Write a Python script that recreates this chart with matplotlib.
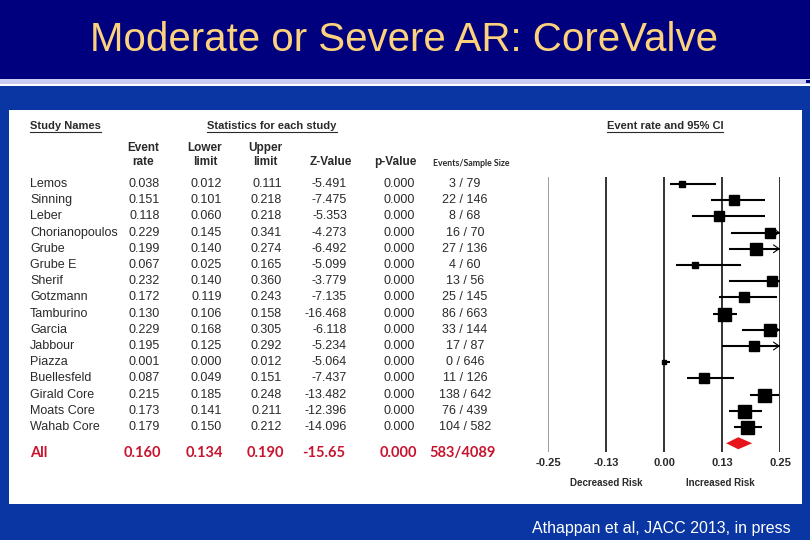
import matplotlib
matplotlib.use("Agg")
import matplotlib.pyplot as plt
from matplotlib.patches import Rectangle
from matplotlib.transforms import blended_transform_factory
from matplotlib import font_manager
import numpy as np

# --- study data ---
studies = ["Lemos", "Sinning", "Leber", "Chorianopoulos", "Grube", "Grube E", "Sherif",
           "Gotzmann", "Tamburino", "Garcia", "Jabbour", "Piazza", "Buellesfeld",
           "Girald Core", "Moats Core", "Wahab Core"]
event_rate = [0.038, 0.151, 0.118, 0.229, 0.199, 0.067, 0.232, 0.172, 0.130, 0.229,
              0.195, 0.001, 0.087, 0.215, 0.173, 0.179]
lower = [0.012, 0.101, 0.060, 0.145, 0.140, 0.025, 0.140, 0.119, 0.106, 0.168,
         0.125, 0.000, 0.049, 0.185, 0.141, 0.150]
upper = [0.111, 0.218, 0.218, 0.341, 0.274, 0.165, 0.360, 0.243, 0.158, 0.305,
         0.292, 0.012, 0.151, 0.248, 0.211, 0.212]
z_value = ["-5.491", "-7.475", "-5.353", "-4.273", "-6.492", "-5.099", "-3.779", "-7.135",
           "-16.468", "-6.118", "-5.234", "-5.064", "-7.437", "-13.482", "-12.396", "-14.096"]
p_value = ["0.000"] * 16
events = ["3 / 79", "22 / 146", "8 / 68", "16 / 70", "27 / 136", "4 / 60", "13 / 56",
          "25 / 145", "86 / 663", "33 / 144", "17 / 87", "0 / 646", "11 / 126",
          "138 / 642", "76 / 439", "104 / 582"]
# relative weight (%), estimated from the square sizes
weight = [2.6, 6.5, 5.4, 6.5, 7.7, 2.6, 6.5, 6.5, 9.1, 7.7, 5.4, 0.9, 5.4, 9.1, 9.1, 9.1]

pooled = dict(rate=0.160, lower=0.134, upper=0.190, z="-15.65", p="0.000", events="583/4089")

xticks = [-0.25, -0.125, 0.0, 0.125, 0.25]
xtick_labels = ["-0.25", "-0.13", "0.00", "0.13", "0.25"]

NAVY = "#00007f"
BLUE = "#0a36a3"
TITLE_C = "#fdd27c"
RED = "#c8142f"
TXT = "#2a2a2a"

installed = {f.name for f in font_manager.fontManager.ttflist}
TITLE_FONT = "Liberation Sans Narrow" if "Liberation Sans Narrow" in installed else "Liberation Sans"

fig = plt.figure(figsize=(8.1, 5.4), dpi=100)
fig.patch.set_facecolor(BLUE)

# background layer in pixel coordinates
bg = fig.add_axes([0, 0, 1, 1], zorder=0)
bg.set_xlim(0, 810)
bg.set_ylim(540, 0)
bg.axis("off")
bg.add_patch(Rectangle((0, 0), 810, 79, color=NAVY, lw=0))
bg.add_patch(Rectangle((0, 79), 810, 5, color="#c9cdf2", lw=0))
bg.add_patch(Rectangle((0, 84), 810, 2, color="white", lw=0))
bg.add_patch(Rectangle((806, 80), 4, 3, color=NAVY, lw=0))
bg.add_patch(Rectangle((9, 110), 793, 394, color="white", lw=0))

title = bg.text(404, 40, "Moderate or Severe AR: CoreValve", color=TITLE_C, fontsize=28.5,
                family=TITLE_FONT, ha="center", va="center")
bg.text(791, 528, "Athappan et al, JACC 2013, in press", color="white", fontsize=11.5,
        family="Liberation Sans", ha="right", va="center")

# forest plot axes
ax = fig.add_axes([548 / 810, 1 - 452 / 540, 232 / 810, 275 / 540], zorder=2)
ax.set_facecolor("none")
n = len(studies)
ax.set_xlim(-0.25, 0.25)
ax.set_ylim(16.54, -0.43)
for s in ax.spines.values():
    s.set_visible(False)
ax.set_yticks([])
ax.set_xticks(xticks)
ax.set_xticklabels(xtick_labels, fontsize=8, fontweight="bold", color=TXT, family="Liberation Sans")
ax.tick_params(axis="x", length=0, pad=4.5)
for xv in xticks:
    ax.axvline(xv, color="#8c8c8c" if xv == -0.25 else "#111111", lw=1.2, zorder=1)

rows = np.arange(n)
wmax = max(weight)
for i in rows:
    lo, hi, est = lower[i], upper[i], event_rate[i]
    ax.plot([lo, min(hi, 0.25)], [i, i], color="black", lw=1.5, zorder=3, solid_capstyle="butt")
    size_pt = 13 * np.sqrt(weight[i] / wmax) * 0.72
    ax.plot(est, i, marker="s", ms=size_pt, color="black", zorder=4)
    if hi > 0.25:
        ax.annotate("", xy=(0.25, i), xytext=(0.235, i),
                    arrowprops=dict(arrowstyle="->,head_length=0.4,head_width=0.28",
                                    lw=0.8, color="black", shrinkA=0, shrinkB=0), zorder=3)

pr = n  # pooled row
h = 0.37
ax.fill([pooled["lower"], pooled["rate"], pooled["upper"], pooled["rate"]],
        [pr, pr - h, pr, pr + h], color="#e8141c", lw=0, zorder=4)

# table text: x in pixels, y in forest rows
tr = blended_transform_factory(bg.transData, ax.transData)
for i in rows:
    kw = dict(transform=tr, fontsize=9, color=TXT, family="Liberation Sans", va="center")
    bg.text(30, i, studies[i], ha="left", **kw)
    bg.text(160, i, f"{event_rate[i]:.3f}", ha="right", **kw)
    bg.text(222, i, f"{lower[i]:.3f}", ha="right", **kw)
    bg.text(282, i, f"{upper[i]:.3f}", ha="right", **kw)
    bg.text(347, i, z_value[i], ha="right", **kw)
    bg.text(415, i, p_value[i], ha="right", **kw)
    bg.text(465, i, events[i], ha="center", **kw)

ay = pr + 0.6
rk = dict(transform=tr, fontsize=10.5, color=RED, family="Lato", fontweight="bold", va="center")
bg.text(30, ay, "All", ha="left", **rk)
bg.text(161, ay, f"{pooled['rate']:.3f}", ha="right", **rk)
bg.text(223, ay, f"{pooled['lower']:.3f}", ha="right", **rk)
bg.text(284, ay, f"{pooled['upper']:.3f}", ha="right", **rk)
bg.text(345, ay, pooled["z"], ha="right", **rk)
bg.text(417, ay, pooled["p"], ha="right", **rk)
bg.text(463, ay, pooled["events"], ha="center", **rk)

# headers
hk = dict(fontsize=8, fontweight="bold", color=TXT, family="Liberation Sans")
underlined = [
    bg.text(30, 126, "Study Names", ha="left", va="center", **hk),
    bg.text(272, 126, "Statistics for each study", ha="center", va="center", **hk),
    bg.text(665, 126, "Event rate and 95% CI", ha="center", va="center", **hk),
]
ck = dict(fontsize=8.5, fontweight="bold", color=TXT, family="Liberation Sans",
          ha="center", va="center", linespacing=1.25)
bg.text(143, 155, "Event\nrate", **ck)
bg.text(205, 155, "Lower\nlimit", **ck)
bg.text(265, 155, "Upper\nlimit", **ck)
bg.text(331, 162, "Z-Value", **ck)
bg.text(395, 162, "p-Value", **ck)
bg.text(471, 163, "Events/Sample Size", fontsize=6.3, fontweight="bold", color=TXT,
        family="Lato", ha="center", va="center")

bg.text(606, 483, "Decreased Risk", fontsize=7, fontweight="bold", color=TXT,
        family="Liberation Sans", ha="center", va="center")
bg.text(720, 483, "Increased Risk", fontsize=7, fontweight="bold", color=TXT,
        family="Liberation Sans", ha="center", va="center")

fig.canvas.draw()
r = fig.canvas.get_renderer()
# fit the title to the slide's title width
tw = title.get_window_extent(r).width
title.set_fontsize(title.get_fontsize() * 628 / tw)
for t in underlined:
    bb = t.get_window_extent(r)
    yb = 540 - bb.y0 + 0.5
    bg.plot([bb.x0, bb.x1], [yb, yb], color=TXT, lw=0.8)

fig.savefig("out.png", dpi=100, facecolor=fig.get_facecolor())
